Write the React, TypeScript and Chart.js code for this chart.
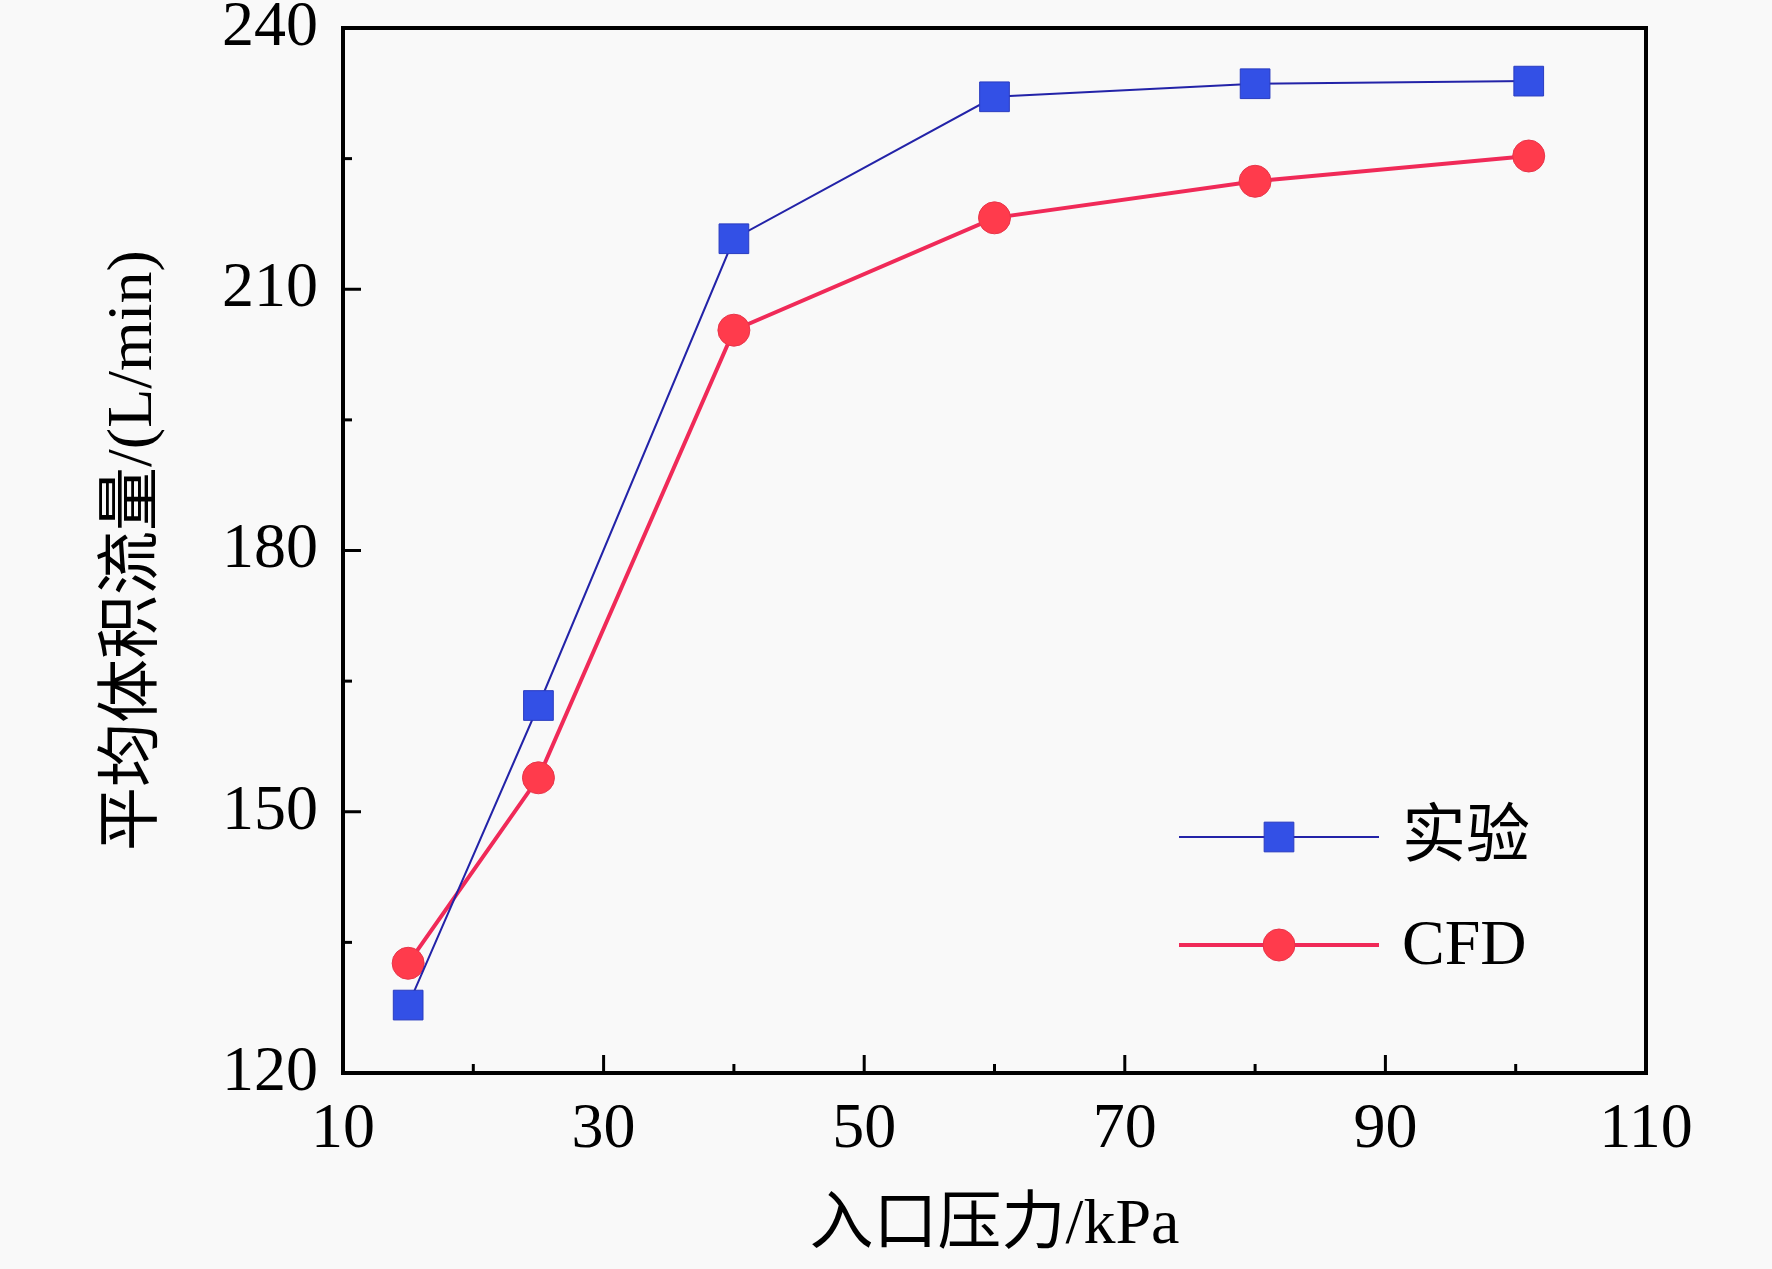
import React, { useEffect, useRef } from "react";
import { Chart, registerables } from "chart.js";
import { drawPoint } from "chart.js/helpers";

Chart.register(...registerables);

// inlet pressure, kPa
const pressure = [15, 25, 40, 60, 80, 101];
// mean volume flow, L/min
const experiment = [127.8, 162.2, 215.8, 232.1, 233.6, 233.9];
const cfd = [132.6, 153.9, 205.3, 218.2, 222.4, 225.3];

const xMajorTicks = [10, 30, 50, 70, 90, 110];
const xMinorTicks = [20, 40, 60, 80, 100];
const yMajorTicks = [120, 150, 180, 210, 240];
const yMinorTicks = [135, 165, 195, 225];

const seriesNames = ["实验", "CFD"];

const W = 1772;
const H = 1269;
const BG = "#f9f9f9";
const SERIF = "'Liberation Serif', 'Noto Sans CJK SC', serif";

// page background
const bgPlugin = {
  id: "bg",
  beforeDraw(chart: any) {
    const { ctx } = chart;
    ctx.save();
    ctx.fillStyle = BG;
    ctx.fillRect(0, 0, chart.width, chart.height);
    ctx.restore();
  },
};

// frame plus inward major/minor ticks
const framePlugin = {
  id: "frame",
  afterDatasetsDraw(chart: any) {
    const { ctx, chartArea: a } = chart;
    const xs = chart.scales.x;
    const ys = chart.scales.y;
    ctx.save();
    ctx.strokeStyle = "#000";
    ctx.lineCap = "butt";
    ctx.lineWidth = 3;
    const tick = (x1: number, y1: number, x2: number, y2: number) => {
      ctx.beginPath();
      ctx.moveTo(x1, y1);
      ctx.lineTo(x2, y2);
      ctx.stroke();
    };
    xMajorTicks.forEach((v) => {
      const px = xs.getPixelForValue(v);
      tick(px, a.bottom, px, a.bottom - 18);
    });
    xMinorTicks.forEach((v) => {
      const px = xs.getPixelForValue(v);
      tick(px, a.bottom, px, a.bottom - 9);
    });
    yMajorTicks.forEach((v) => {
      const py = ys.getPixelForValue(v);
      tick(a.left, py, a.left + 18, py);
    });
    yMinorTicks.forEach((v) => {
      const py = ys.getPixelForValue(v);
      tick(a.left, py, a.left + 9, py);
    });
    ctx.lineWidth = 4;
    ctx.lineJoin = "miter";
    ctx.strokeRect(a.left, a.top, a.right - a.left, a.bottom - a.top);
    ctx.restore();
  },
};

// legend inside the plot, lower right
const legendPlugin = {
  id: "innerLegend",
  afterDraw(chart: any) {
    const { ctx, chartArea: a } = chart;
    const x1 = a.left + 836;
    const x2 = a.left + 1036;
    const xm = (x1 + x2) / 2;
    const rows = [a.top + 809, a.top + 917];
    ctx.save();
    chart.data.datasets.forEach((ds: any, i: number) => {
      const y = rows[i];
      ctx.strokeStyle = ds.borderColor;
      ctx.lineWidth = ds.borderWidth;
      ctx.beginPath();
      ctx.moveTo(x1, y);
      ctx.lineTo(x2, y);
      ctx.stroke();
      ctx.fillStyle = ds.pointBackgroundColor;
      ctx.strokeStyle = ds.pointBorderColor;
      ctx.lineWidth = ds.pointBorderWidth;
      drawPoint(ctx, { pointStyle: ds.pointStyle, radius: ds.pointRadius, rotation: 0, borderWidth: ds.pointBorderWidth }, xm, y);
      ctx.fillStyle = "#000";
      ctx.font = `64px ${SERIF}`;
      ctx.textBaseline = "middle";
      ctx.textAlign = "left";
      ctx.fillText(ds.label, x2 + 23, y + 2);
    });
    ctx.restore();
  },
};

export default function App() {
  const canvasRef = useRef<HTMLCanvasElement | null>(null);

  useEffect(() => {
    if (!canvasRef.current) return;
    const chart = new Chart(canvasRef.current, {
      type: "line",
      data: {
        datasets: [
          {
            label: seriesNames[0],
            data: pressure.map((p, i) => ({ x: p, y: experiment[i] })),
            borderColor: "#2323a8",
            borderWidth: 2,
            pointStyle: "rect",
            pointRadius: 21,
            pointBackgroundColor: "#3350e6",
            pointBorderColor: "#2a3cc0",
            pointBorderWidth: 1,
          },
          {
            label: seriesNames[1],
            data: pressure.map((p, i) => ({ x: p, y: cfd[i] })),
            borderColor: "#f02a58",
            borderWidth: 4,
            pointStyle: "circle",
            pointRadius: 16,
            pointBackgroundColor: "#ff3b4c",
            pointBorderColor: "#e8354a",
            pointBorderWidth: 1,
          },
        ],
      },
      options: {
        animation: false,
        responsive: false,
        devicePixelRatio: 1,
        layout: { padding: { left: 0, top: 28, right: 126, bottom: 0 } },
        plugins: {
          legend: { display: false },
          tooltip: { enabled: false },
        },
        scales: {
          x: {
            type: "linear",
            min: 10,
            max: 110,
            afterBuildTicks: (s: any) => {
              s.ticks = xMajorTicks.map((v) => ({ value: v }));
            },
            afterFit: (s: any) => {
              s.height = 196;
              s.paddingLeft = 0;
              s.paddingRight = 0;
            },
            grid: { display: false, drawTicks: false },
            border: { display: false },
            ticks: {
              color: "#000",
              padding: 19,
              maxRotation: 0,
              autoSkip: false,
              font: { family: SERIF, size: 64 },
            },
            title: {
              display: true,
              text: "入口压力/kPa",
              color: "#000",
              font: { family: SERIF, size: 64 },
              padding: { top: 0, bottom: 4 },
            },
          },
          y: {
            type: "linear",
            min: 120,
            max: 240,
            afterBuildTicks: (s: any) => {
              s.ticks = yMajorTicks.map((v) => ({ value: v }));
            },
            afterFit: (s: any) => {
              s.width = 343;
              s.paddingTop = 0;
              s.paddingBottom = 0;
            },
            grid: { display: false, drawTicks: false },
            border: { display: false },
            ticks: {
              color: "#000",
              padding: 25,
              autoSkip: false,
              font: { family: SERIF, size: 64 },
            },
            title: {
              display: true,
              text: "平均体积流量/(L/min)",
              color: "#000",
              font: { family: SERIF, size: 64 },
              padding: { top: 96, bottom: 0 },
            },
          },
        },
      },
      plugins: [bgPlugin, framePlugin, legendPlugin],
    });
    return () => chart.destroy();
  }, []);

  return (
    <div style={{ position: "fixed", left: 0, top: 0, width: W, height: H, background: BG }}>
      <canvas ref={canvasRef} width={W} height={H} style={{ display: "block", width: W, height: H }} />
    </div>
  );
}
